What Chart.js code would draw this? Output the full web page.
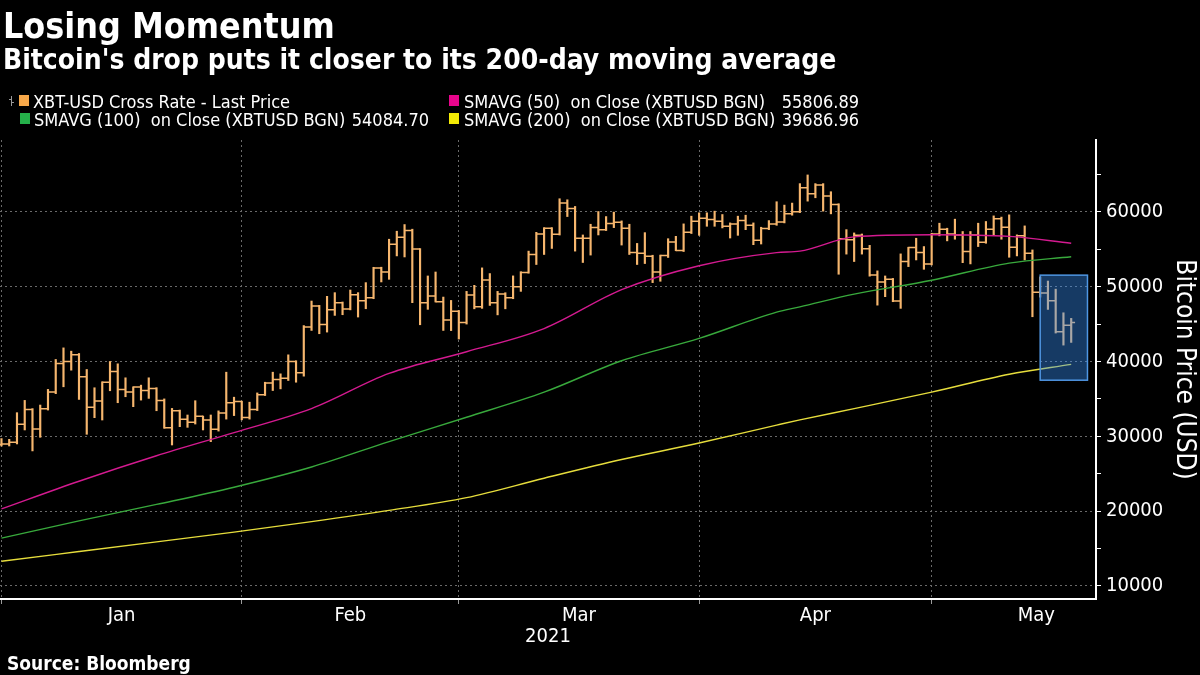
<!DOCTYPE html>
<html>
<head>
<meta charset="utf-8">
<script src="https://cdn.jsdelivr.net/npm/chart.js@4.4.1/dist/chart.umd.min.js"></script>
<style>
  html, body { margin: 0; padding: 0; background: #000; }
  #wrap { position: relative; width: 1200px; height: 675px; overflow: hidden; background: #000;
          font-family: "DejaVu Sans Condensed", "Liberation Sans Narrow", "DejaVu Sans", sans-serif; color: #fff; }
  #chart { position: absolute; left: 0; top: 0; }
  .txt { position: absolute; white-space: pre; line-height: 1; }
  .title { left: 3px; top: 8px; font-size: 35.5px; font-weight: bold; }
  .subtitle { left: 3px; top: 46px; font-size: 28px; font-weight: bold; }
  .leg { font-size: 18px; }
  .sq { position: absolute; width: 10px; height: 11px; }
  .source { left: 7px; top: 654px; font-size: 19px; font-weight: bold; }
</style>
</head>
<body>
<div id="wrap">
  <canvas id="chart" width="1200" height="675"></canvas>

  <div class="txt title">Losing Momentum</div>
  <div class="txt subtitle">Bitcoin's drop puts it closer to its 200-day moving average</div>

  <!-- legend -->
  <div style="position:absolute;left:11px;top:96px;width:1px;height:10px;background:#9a9a9a"></div>
  <div style="position:absolute;left:9px;top:99px;width:2px;height:1px;background:#9a9a9a"></div>
  <div style="position:absolute;left:12px;top:102px;width:2px;height:1px;background:#9a9a9a"></div>
  <div class="sq" style="left:19px;top:95px;background:#f7a84a"></div>
  <div class="txt leg" style="left:33px;top:93px">XBT-USD Cross Rate - Last Price</div>

  <div class="sq" style="left:449px;top:95px;background:#e8058c"></div>
  <div class="txt leg" style="left:464px;top:93px">SMAVG (50)  on Close (XBTUSD BGN)</div>
  <div class="txt leg" style="right:341px;top:93px">55806.89</div>

  <div class="sq" style="left:20px;top:113px;background:#25b04a"></div>
  <div class="txt leg" style="left:34px;top:111px">SMAVG (100)  on Close (XBTUSD BGN)</div>
  <div class="txt leg" style="right:771px;top:111px">54084.70</div>

  <div class="sq" style="left:449px;top:113px;background:#f3ea05"></div>
  <div class="txt leg" style="left:464px;top:111px">SMAVG (200)  on Close (XBTUSD BGN)</div>
  <div class="txt leg" style="right:341px;top:111px">39686.96</div>

  <div class="txt source">Source: Bloomberg</div>
</div>

<script>
// Daily bars, day 0 sits on the Jan 1 grid line (Dec 31 bar), last bar = May 18
const opens = [
  28900, 28980, 29200, 31600, 33600, 30980, 33690, 35910, 39730, 40000,
  40890, 37960, 33870, 34710, 37240, 38670, 36270, 35910, 36580, 36130,
  36400, 34800, 31160, 33420, 32270, 31870, 32670, 32180, 30930, 33130,
  34470, 34640, 32500, 33570, 35540, 37140, 37590, 37770, 40000, 38480,
  44600, 47410, 44960, 46920, 47860, 47010, 48930, 48130, 48530, 52500,
  51970, 55670, 56610, 57500, 55040, 47860, 48750, 47990, 45550, 46730,
  45200, 48880, 47310, 50900, 47850, 49010, 48520, 50000, 51880, 54300,
  57040, 57800, 57000, 61170, 60450, 56460, 56460, 57890, 57620, 58430,
  58610, 57800, 54570, 54480, 54080, 51970, 54150, 55960, 54840, 57260,
  58740, 59150, 58970, 58740, 58070, 58390, 58830, 58210, 56190, 57760,
  58390, 58650, 59730, 60000, 63230, 62420, 63590, 62110, 60990, 56410,
  56280, 56860, 55070, 51570, 50620, 50980, 48080, 53350, 55220, 54550,
  53040, 57050, 57680, 57050, 56920, 54690, 56920, 55940, 57680, 59060,
  57950, 55270, 56790, 54460, 49240, 49150, 48110, 43970, 44860
];
const highs = [
  29700, 29600, 33160, 34800, 33700, 34180, 36270, 40270, 41820, 41380,
  41070, 38930, 36490, 37290, 40000, 39690, 37820, 36620, 36840, 37820,
  36500, 35000, 33730, 33510, 32850, 34760, 32710, 32850, 33400, 38570,
  35230, 34700, 34560, 35800, 37230, 38570, 38350, 40890, 40100, 44800,
  48080, 47500, 48710, 49200, 47950, 49550, 49200, 50540, 52590, 52600,
  56340, 57410, 58300, 57680, 55090, 51430, 51960, 48610, 48160, 46820,
  49370, 50180, 52510, 51750, 49370, 49190, 51440, 52000, 54750, 57260,
  57890, 57890, 61750, 61610, 60720, 56910, 58340, 60040, 59370, 59960,
  58790, 58340, 55780, 57220, 54200, 54220, 56410, 56730, 58390, 59420,
  59870, 59870, 60090, 59640, 58520, 59420, 59550, 58520, 57940, 58830,
  61350, 60900, 61170, 63770, 64930, 63770, 63770, 62690, 61080, 57620,
  57180, 57040, 55520, 52110, 51430, 51100, 54380, 55270, 56470, 55360,
  57140, 58480, 57810, 59020, 57370, 57370, 58480, 58710, 59460, 59300,
  59600, 56920, 58120, 54910, 51300, 50750, 49670, 46510, 45760
];
const lows = [
  28700, 28710, 28980, 30850, 28050, 29870, 33510, 35700, 36620, 38840,
  34930, 30270, 32490, 32180, 36090, 34490, 35290, 33960, 34840, 35070,
  33420, 31070, 28840, 31290, 31200, 31640, 30850, 29290, 30700, 32300,
  32770, 32200, 32300, 33440, 35450, 36120, 36340, 37460, 37230, 38040,
  44150, 43710, 43930, 46160, 46250, 46900, 45940, 47050, 48390, 50630,
  50980, 54110, 53970, 47860, 44910, 46970, 47950, 44150, 44130, 43000,
  45000, 47040, 47100, 47490, 46230, 47040, 48390, 49370, 51800, 52960,
  54300, 55110, 56900, 59370, 54750, 53230, 54220, 56910, 57500, 57890,
  55560, 54300, 52960, 53090, 50540, 50720, 53900, 54800, 54700, 57100,
  56860, 58070, 58070, 57850, 56500, 56860, 57620, 55610, 55700, 57620,
  58200, 58520, 59550, 59900, 61430, 61880, 60090, 59730, 51660, 54350,
  53360, 54350, 51400, 47530, 48660, 47990, 47100, 52680, 53570, 52320,
  52900, 56790, 56120, 56340, 53210, 53040, 55360, 55800, 56920, 56340,
  53930, 54110, 53570, 45980, 48600, 46960, 43800, 42190, 42550
];
const closes = [
  28980, 29200, 31600, 33600, 30980, 33690, 35910, 39730, 40000, 40890,
  37960, 33870, 34710, 37240, 38670, 36270, 35910, 36580, 36130, 36400,
  34800, 31160, 33420, 32270, 31870, 32670, 32180, 30930, 33130, 34470,
  34640, 32500, 33570, 35540, 37140, 37590, 37770, 40000, 38480, 44600,
  47410, 44960, 46920, 47860, 47010, 48930, 48130, 48530, 52500, 51970,
  55670, 56610, 57500, 55040, 47860, 48750, 47990, 45550, 46730, 45200,
  48880, 47310, 50900, 47850, 49010, 48520, 50000, 51880, 54300, 57040,
  57800, 57000, 61170, 60450, 56460, 56460, 57890, 57620, 58430, 58610,
  57800, 54570, 54480, 54080, 51970, 54150, 55960, 54840, 57260, 58740,
  59150, 58970, 58740, 58070, 58390, 58830, 58210, 56190, 57760, 58390,
  58650, 59730, 60000, 63230, 62420, 63590, 62110, 60990, 56410, 56280,
  56860, 55070, 51570, 50620, 50980, 48080, 53350, 55220, 54550, 53040,
  57050, 57680, 57050, 56920, 54690, 56920, 55940, 57680, 59060, 57950,
  55270, 56790, 54460, 49240, 49150, 48110, 43970, 44860, 45220
];

// moving averages at these day positions
const smaDays = [0, 10, 20, 30, 40, 50, 60, 70, 80, 90, 100, 103, 110, 120, 130, 138];
const sma50  = [20300, 24000, 27400, 30500, 33700, 38400, 41300, 44400, 49600, 52800, 54550, 54750, 56650, 56930, 56720, 55800];
const sma100 = [16400, 18700, 20900, 23200, 25900, 29300, 32550, 35900, 40100, 43090, 46600, 47300, 49000, 50860, 53150, 54000];
const sma200 = [13300, 14600, 15900, 17200, 18600, 20100, 21800, 24400, 26900, 29100, 31500, 32200, 33700, 35900, 38300, 39620];

// axis ticks
const monthStarts = [0, 31, 59, 90, 120];
const monthMids = [15.5, 45, 74.5, 105, 133.5];
const monthNames = ['Jan', 'Feb', 'Mar', 'Apr', 'May'];
const yTicks = [10000, 15000, 20000, 25000, 30000, 35000, 40000, 45000, 50000, 55000, 60000, 65000];

// highlighted range (last week)
const boxDays = [134, 140.1];
const boxPrices = [37500, 51540];

const barColor = '#f6b66e';
const gridColor = '#6a6a6a';
const fontFamily = '"DejaVu Sans Condensed", "Liberation Sans Narrow", "DejaVu Sans", sans-serif';

const ohlcTicks = {
    id: 'ohlcTicks',
    afterDatasetDraw(chart, args) {
        if (args.index !== 0) return;
        const { ctx, chartArea, scales: { x, y } } = chart;
        const half = (x.getPixelForValue(1) - x.getPixelForValue(0)) / 2;
        ctx.save();
        ctx.beginPath();
        ctx.rect(chartArea.left, chartArea.top, chartArea.width, chartArea.height);
        ctx.clip();
        ctx.strokeStyle = barColor;
        ctx.lineWidth = 1.5;
        ctx.beginPath();
        opens.forEach((o, i) => {
            const px = x.getPixelForValue(i);
            const yo = y.getPixelForValue(o);
            const yc = y.getPixelForValue(closes[i]);
            ctx.moveTo(px - half, yo);
            ctx.lineTo(px, yo);
            ctx.moveTo(px, yc);
            ctx.lineTo(px + half, yc);
        });
        ctx.stroke();
        ctx.restore();
    }
};

const highlightBox = {
    id: 'highlightBox',
    afterDraw(chart) {
        const { ctx, scales: { x, y } } = chart;
        const x1 = x.getPixelForValue(boxDays[0]);
        const x2 = x.getPixelForValue(boxDays[1]);
        const y1 = y.getPixelForValue(boxPrices[1]);
        const y2 = y.getPixelForValue(boxPrices[0]);
        ctx.save();
        ctx.fillStyle = 'rgba(55, 145, 250, 0.4)';
        ctx.fillRect(x1, y1, x2 - x1, y2 - y1);
        ctx.strokeStyle = '#4f96e2';
        ctx.lineWidth = 1.5;
        ctx.strokeRect(x1, y1, x2 - x1, y2 - y1);
        ctx.restore();
    }
};

function smaLine(values, color) {
    return {
        type: 'line',
        data: smaDays.map((d, i) => ({ x: d, y: values[i] })),
        borderColor: color,
        borderWidth: 1.4,
        pointRadius: 0,
        cubicInterpolationMode: 'monotone',
        order: 1
    };
}

new Chart(document.getElementById('chart'), {
    type: 'bar',
    data: {
        datasets: [
            {
                type: 'bar',
                data: opens.map((o, i) => ({ x: i, y: [lows[i], highs[i]] })),
                backgroundColor: barColor,
                borderWidth: 0,
                barThickness: 1.5,
                order: 2
            },
            smaLine(sma50, '#d41a90'),
            smaLine(sma100, '#38a93c'),
            smaLine(sma200, '#e6dd3c')
        ]
    },
    options: {
        responsive: false,
        animation: false,
        layout: { padding: { top: 140, left: 0, right: 0, bottom: 0 } },
        plugins: {
            legend: { display: false },
            tooltip: { enabled: false }
        },
        scales: {
            x: {
                type: 'linear',
                min: -0.19,
                max: 141.2,
                offset: false,
                afterBuildTicks: s => {
                    s.ticks = monthStarts.concat(monthMids).sort((a, b) => a - b).map(v => ({ value: v }));
                },
                afterFit: s => { s.height = 76; },
                grid: {
                    offset: false,
                    color: c => monthStarts.includes(c.tick && c.tick.value) ? gridColor : 'transparent',
                    tickColor: c => monthStarts.includes(c.tick && c.tick.value) ? '#9a9a9a' : 'transparent',
                    tickBorderDash: [],
                    tickLength: 5
                },
                border: { display: true, color: '#ffffff', width: 2, dash: [2, 3] },
                ticks: {
                    color: '#ffffff',
                    autoSkip: false,
                    maxRotation: 0,
                    padding: 0,
                    font: { family: fontFamily, size: 20 },
                    callback: v => {
                        const k = monthMids.indexOf(v);
                        return k >= 0 ? monthNames[k] : '';
                    }
                },
                title: {
                    display: true,
                    text: '2021',
                    color: '#ffffff',
                    font: { family: fontFamily, size: 20 },
                    padding: { top: 0, bottom: 26 }
                }
            },
            y: {
                position: 'right',
                min: 8260,
                max: 69600,
                afterBuildTicks: s => { s.ticks = yTicks.map(v => ({ value: v })); },
                afterFit: s => { s.width = 104; },
                grid: {
                    color: c => (c.tick && c.tick.value % 10000 === 0) ? gridColor : 'transparent',
                    tickColor: '#ffffff',
                    tickBorderDash: [],
                    tickLength: 5
                },
                border: { display: true, color: '#ffffff', width: 2, dash: [2, 3] },
                ticks: {
                    color: '#ffffff',
                    padding: 5,
                    font: { family: fontFamily, size: 20 },
                    callback: v => (v % 10000 === 0 ? String(v) : '')
                },
                title: {
                    display: true,
                    text: 'Bitcoin Price (USD)',
                    color: '#ffffff',
                    font: { family: fontFamily, size: 26 },
                    padding: { top: 1, bottom: 0 }
                }
            }
        }
    },
    plugins: [ohlcTicks, highlightBox]
});
</script>
</body>
</html>
